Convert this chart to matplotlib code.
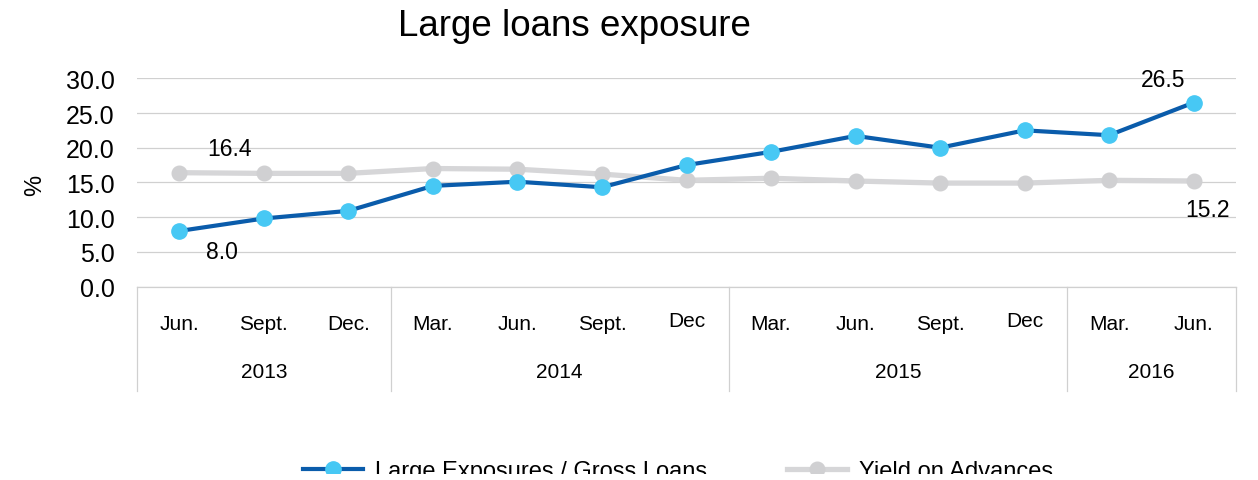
import matplotlib.pyplot as plt
from matplotlib.patches import Rectangle

plt.rcParams['font.family'] = ['Liberation Sans', 'DejaVu Sans']

months = ['Jun.', 'Sept.', 'Dec.', 'Mar.', 'Jun.', 'Sept.', 'Dec',
          'Mar.', 'Jun.', 'Sept.', 'Dec', 'Mar.', 'Jun.']
years = ['2013', '2014', '2015', '2016']
year_counts = [3, 4, 4, 2]

large_exp = [8.0, 9.8, 10.9, 14.5, 15.1, 14.3, 17.5, 19.4, 21.7, 20.0, 22.5, 21.8, 26.5]
yield_adv = [16.4, 16.3, 16.3, 17.0, 16.9, 16.2, 15.3, 15.6, 15.2, 14.9, 14.9, 15.3, 15.2]

W, H = 1258, 481
fig = plt.figure(figsize=(W / 100, H / 100), dpi=100)
ax = fig.add_axes([137 / W, (H - 287.5) / H, (1236 - 137) / W, (287.5 - 79.3) / H])

x = list(range(len(months)))
ax.plot(x, yield_adv, color='#d6d6d8', lw=3.8, marker='o', ms=10.5,
        mfc='#d0d0d2', mec='#d0d0d2', label='Yield on Advances', zorder=3)
ax.plot(x, large_exp, color='#0a5cab', lw=3.0, marker='o', ms=11,
        mfc='#47c8f4', mec='#47c8f4', label='Large Exposures / Gross Loans', zorder=4)

ax.set_xlim(-0.5, len(months) - 0.5)
ax.set_ylim(0, 30)
ax.set_yticks([0, 5, 10, 15, 20, 25, 30])
ax.set_yticklabels(['%.1f' % v for v in [0, 5, 10, 15, 20, 25, 30]], fontsize=18)
ax.tick_params(axis='y', length=0, pad=16)
ax.set_xticks([])
ax.grid(axis='y', color='#d0d0d0', lw=0.9)
ax.set_axisbelow(True)
for s in ['left', 'right', 'top']:
    ax.spines[s].set_visible(False)
ax.spines['bottom'].set_color('#d0d0d0')
ax.spines['bottom'].set_linewidth(0.9)

# value labels on the first and last points
ax.annotate('%.1f' % yield_adv[0], (0, yield_adv[0]), xytext=(50, 24),
            textcoords='offset pixels', ha='center', va='center', fontsize=16.5)
ax.annotate('%.1f' % large_exp[0], (0, large_exp[0]), xytext=(43, -21),
            textcoords='offset pixels', ha='center', va='center', fontsize=16.5)
ax.annotate('%.1f' % large_exp[-1], (x[-1], large_exp[-1]), xytext=(-31, 23),
            textcoords='offset pixels', ha='center', va='center', fontsize=16.5)
ax.annotate('%.1f' % yield_adv[-1], (x[-1], yield_adv[-1]), xytext=(14, -28),
            textcoords='offset pixels', ha='center', va='center', fontsize=16.5)

# two-level category axis: months, then years with dividers
tr = ax.get_xaxis_transform()
for i, m in enumerate(months):
    yy = -0.162 if m == 'Dec' else -0.18
    ax.text(i, yy, m, transform=tr, ha='center', va='center', fontsize=15)

start = -0.5
bounds = [start]
for yr, n in zip(years, year_counts):
    ax.text(start + n / 2, -0.41, yr, transform=tr, ha='center', va='center', fontsize=15)
    start += n
    bounds.append(start)
for b in bounds:
    ax.plot([b, b], [0, -0.5], transform=tr, color='#d0d0d0', lw=0.9, clip_on=False)

fig.text(574 / W, (H - 26) / H, 'Large loans exposure', ha='center', va='center', fontsize=26.5)
fig.text(35 / W, (H - 185) / H, '%', rotation=90, ha='center', va='center', fontsize=17)

h, l = ax.get_legend_handles_labels()
fig.legend(h[::-1], l[::-1], loc='center', bbox_to_anchor=(678 / W, (H - 472) / H),
           ncol=2, frameon=False, fontsize=17, handlelength=2.55,
           handletextpad=0.5, columnspacing=3.4)

# legend row runs off the bottom edge
fig.patches.append(Rectangle((0, 0), 1, 6 / H, transform=fig.transFigure,
                             facecolor='white', edgecolor='none', zorder=10))

fig.savefig('out.png', dpi=100)
